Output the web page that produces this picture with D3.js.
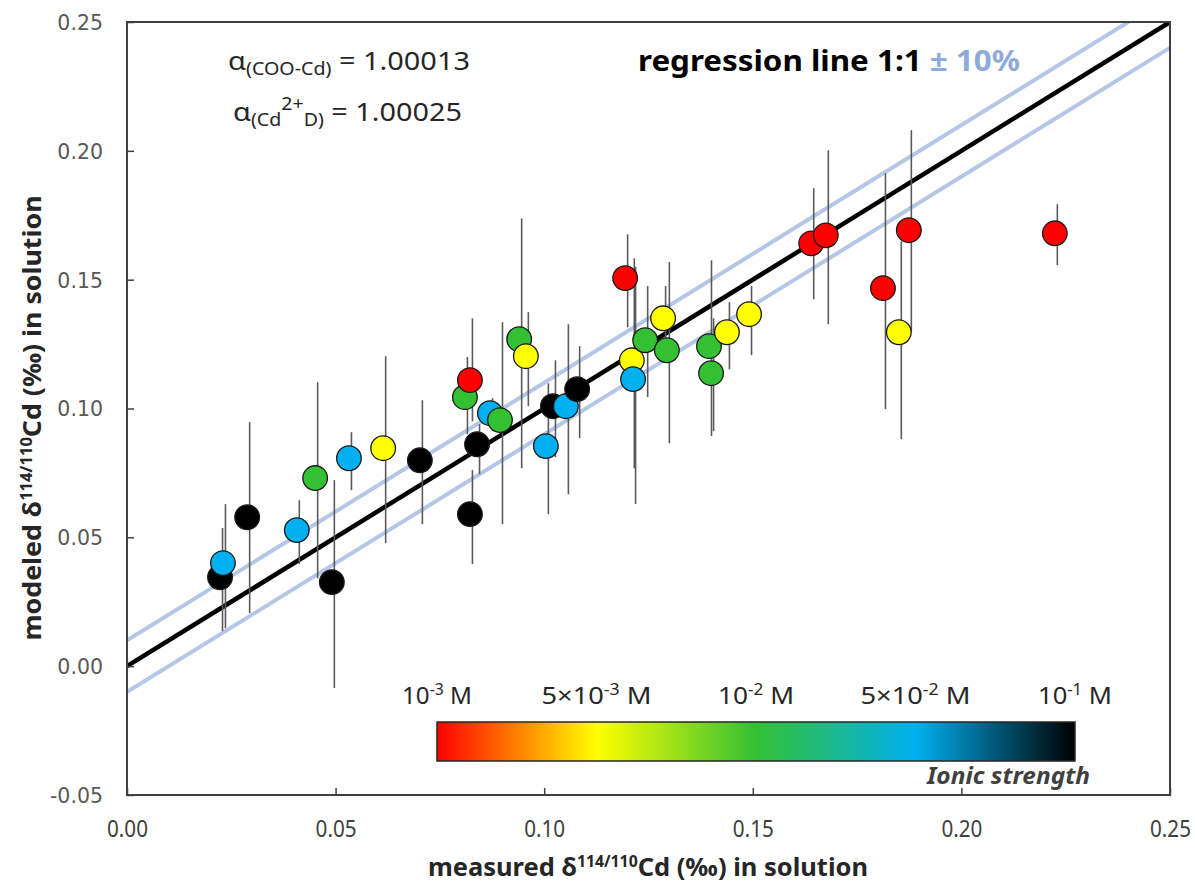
<!DOCTYPE html>
<html>
<head>
<meta charset="utf-8">
<script src="https://cdn.jsdelivr.net/npm/d3@7"></script>
<style>
  html, body { margin: 0; padding: 0; background: #fff; }
  svg { display: block; }
  .narrow { font-family: "Noto Sans", "Open Sans", sans-serif; }
</style>
</head>
<body>
<svg id="chart" width="1195" height="886"></svg>
<script>
// Measured vs. modelled δ114/110Cd in solution, coloured by ionic strength
const ionicLevels = ["1e-3", "5e-3", "1e-2", "5e-2", "1e-1"];
const ionicLabels = [
  { base: "10", exp: "-3", pre: "" },
  { base: "10", exp: "-3", pre: "5×" },
  { base: "10", exp: "-2", pre: "" },
  { base: "10", exp: "-2", pre: "5×" },
  { base: "10", exp: "-1", pre: "" }
];
const ionicColors = ["#ff0000", "#ffff00", "#33c033", "#00b0f0", "#000000"];

// one entry per sample
const measuredCd = [
  0.0223, 0.0288, 0.0491, 0.0702, 0.0822, 0.0839, 0.1021, 0.1079,
  0.0230, 0.0407, 0.0532, 0.0870, 0.1004, 0.1052, 0.1213,
  0.0451, 0.0810, 0.0894, 0.0940, 0.1242, 0.1294, 0.1395, 0.1400,
  0.0614, 0.0956, 0.1210, 0.1285, 0.1438, 0.1491, 0.1850,
  0.0822, 0.1194, 0.1640, 0.1675, 0.1812, 0.1874, 0.2224
];
const modeledCd = [
  0.0345, 0.0578, 0.0326, 0.0799, 0.0590, 0.0861, 0.1009, 0.1075,
  0.0400, 0.0528, 0.0807, 0.0982, 0.0854, 0.1009, 0.1114,
  0.0730, 0.1044, 0.0955, 0.1269, 0.1265, 0.1226, 0.1242, 0.1137,
  0.0846, 0.1203, 0.1187, 0.1350, 0.1296, 0.1366, 0.1296,
  0.1110, 0.1506, 0.1641, 0.1672, 0.1467, 0.1692, 0.1680
];
const modeledHigh = [
  0.0536, 0.0947, 0.0722, 0.1032, 0.0761, 0.0939, 0.1187, 0.1242,
  0.0629, 0.0644, 0.0908, 0.1040, 0.1098, 0.1327, 0.1550,
  0.1102, 0.1200, 0.1335, 0.1738, 0.1475, 0.1568, 0.1575, 0.1350,
  0.1203, 0.1374, 0.1583, 0.1475, 0.1413, 0.1475, 0.1649,
  0.1350, 0.1676, 0.1855, 0.2002, 0.1913, 0.2080, 0.1793
];
const modeledLow = [
  0.0136, 0.0206, -0.0085, 0.0551, 0.0396, 0.0745, 0.0811, 0.0885,
  0.0147, 0.0396, 0.0683, 0.0930, 0.0590, 0.0667, 0.0629,
  0.0341, 0.0900, 0.0551, 0.0768, 0.1044, 0.0865, 0.0893, 0.0912,
  0.0477, 0.1009, 0.0768, 0.1220, 0.1152, 0.1207, 0.0881,
  0.0950, 0.1315, 0.1424, 0.1327, 0.0997, 0.1300, 0.1556
];
const ionicOfSample = [
  "1e-1", "1e-1", "1e-1", "1e-1", "1e-1", "1e-1", "1e-1", "1e-1",
  "5e-2", "5e-2", "5e-2", "5e-2", "5e-2", "5e-2", "5e-2",
  "1e-2", "1e-2", "1e-2", "1e-2", "1e-2", "1e-2", "1e-2", "1e-2",
  "5e-3", "5e-3", "5e-3", "5e-3", "5e-3", "5e-3", "5e-3",
  "1e-3", "1e-3", "1e-3", "1e-3", "1e-3", "1e-3", "1e-3"
];
// drawing order (later samples sit on top)
const drawOrder = [
  0, 8, 1, 9, 15, 2, 10, 23, 3, 16, 30, 5, 4, 11, 17, 18, 24, 12, 6, 13, 7,
  25, 14, 19, 26, 20, 21, 22, 27, 28, 31, 32, 33, 34, 29, 35, 36
];

const xTicks = [0, 0.05, 0.10, 0.15, 0.20, 0.25];
const yTicks = [-0.05, 0, 0.05, 0.10, 0.15, 0.20, 0.25];
const oneToOne = [0, 0.25];
const bandOffset = 0.01;

const samples = measuredCd.map((m, i) => ({
  x: m, y: modeledCd[i], lo: modeledLow[i], hi: modeledHigh[i], ionic: ionicOfSample[i]
}));

const svg = d3.select("#chart");
const plot = { left: 127, top: 22, right: 1170, bottom: 795 };

const x = d3.scaleLinear().domain([0, 0.25]).range([plot.left, plot.right]);
const y = d3.scaleLinear().domain([-0.05, 0.25]).range([plot.bottom, plot.top]);
const colorOf = d3.scaleOrdinal().domain(ionicLevels).range(ionicColors);
const tickFmt = v => d3.format(".2f")(v).replace("−", "-");

const clipId = "plotClip";
svg.append("defs").append("clipPath").attr("id", clipId)
  .append("rect")
  .attr("x", plot.left).attr("y", plot.top)
  .attr("width", plot.right - plot.left).attr("height", plot.bottom - plot.top);

const inner = svg.append("g").attr("clip-path", `url(#${clipId})`);

// ±10 % band and 1:1 line
const diag = off => d3.line().x(d => x(d)).y(d => y(d + off));
const ext = [-0.05, 0.3];
[bandOffset, -bandOffset].forEach(off => {
  inner.append("path").datum(ext).attr("d", diag(off))
    .attr("fill", "none").attr("stroke", "#b4c7e7").attr("stroke-width", 4);
});
inner.append("path").datum(oneToOne).attr("d", diag(0))
  .attr("fill", "none").attr("stroke", "#000").attr("stroke-width", 4.5);

// error bars
const order = drawOrder.map(i => samples[i]);
inner.append("g").selectAll("line").data(order).join("line")
  .attr("x1", d => x(d.x) + 2.5).attr("x2", d => x(d.x) + 2.5)
  .attr("y1", d => y(d.hi)).attr("y2", d => y(d.lo))
  .attr("stroke", "#5a5a5a").attr("stroke-width", 1.6);

// sample markers
inner.append("g").selectAll("circle").data(order).join("circle")
  .attr("cx", d => x(d.x)).attr("cy", d => y(d.y)).attr("r", 12.3)
  .attr("fill", d => colorOf(d.ionic))
  .attr("stroke", "#1a1a1a").attr("stroke-width", 1.3);

// frame
svg.append("rect")
  .attr("x", plot.left).attr("y", plot.top)
  .attr("width", plot.right - plot.left).attr("height", plot.bottom - plot.top)
  .attr("fill", "none").attr("stroke", "#404040").attr("stroke-width", 2);

// axes with inward ticks
const xAxis = svg.append("g").attr("transform", `translate(0,${plot.bottom})`)
  .call(d3.axisTop(x).tickValues(xTicks).tickSize(7).tickFormat(tickFmt));
xAxis.select(".domain").remove();
xAxis.selectAll(".tick line").attr("stroke", "#404040").attr("stroke-width", 1.5);
xAxis.selectAll(".tick text")
  .attr("class", "narrow").attr("y", 42).attr("dy", 0)
  .attr("font-size", 23).attr("fill", "#404040")
  .attr("textLength", 41).attr("lengthAdjust", "spacingAndGlyphs");

const yAxis = svg.append("g").attr("transform", `translate(${plot.left},0)`)
  .call(d3.axisRight(y).tickValues(yTicks).tickSize(7).tickFormat(tickFmt));
yAxis.select(".domain").remove();
yAxis.selectAll(".tick line").attr("stroke", "#404040").attr("stroke-width", 1.5);
yAxis.selectAll(".tick text")
  .attr("x", -24).attr("text-anchor", "end").attr("dy", "0.36em")
  .attr("font-family", "DejaVu Sans, sans-serif")
  .attr("font-size", 20.5).attr("fill", "#595959");

// axis titles
function deltaTitle(sel, pre) {
  sel.append("tspan").text(pre + "δ");
  sel.append("tspan").attr("font-size", "0.62em").attr("dy", "-0.55em").text("114/110");
  sel.append("tspan").attr("dy", "0.34em").text("Cd (‰) in solution");
}
const xt = svg.append("text").attr("class", "narrow")
  .attr("x", 648).attr("y", 876).attr("text-anchor", "middle")
  .attr("font-size", 25).attr("font-weight", "bold").attr("fill", "#262626")
  .attr("textLength", 440).attr("lengthAdjust", "spacingAndGlyphs");
deltaTitle(xt, "measured ");

const yt = svg.append("text").attr("class", "narrow")
  .attr("transform", "translate(41,418) rotate(-90)").attr("text-anchor", "middle")
  .attr("font-size", 25).attr("font-weight", "bold").attr("fill", "#262626")
  .attr("textLength", 445).attr("lengthAdjust", "spacingAndGlyphs");
deltaTitle(yt, "modeled ");

// fractionation factors
const a1 = svg.append("text").attr("class", "narrow")
  .attr("x", 228).attr("y", 70).attr("font-size", 26).attr("fill", "#262626")
  .attr("textLength", 242).attr("lengthAdjust", "spacingAndGlyphs");
a1.append("tspan").text("α");
a1.append("tspan").attr("font-size", "0.68em").attr("dy", "0.3em").text("(COO-Cd)");
a1.append("tspan").attr("dy", "-0.2em").text(" = 1.00013");

const a2 = svg.append("text").attr("class", "narrow")
  .attr("x", 233).attr("y", 121).attr("font-size", 26).attr("fill", "#262626")
  .attr("textLength", 229).attr("lengthAdjust", "spacingAndGlyphs");
a2.append("tspan").text("α");
a2.append("tspan").attr("font-size", "0.68em").attr("dy", "0.3em").text("(Cd");
a2.append("tspan").attr("font-size", "0.68em").attr("dy", "-0.95em").text("2+");
a2.append("tspan").attr("font-size", "0.68em").attr("dy", "0.95em").text("D)");
a2.append("tspan").attr("dy", "-0.2em").text(" = 1.00025");

// legend for the lines
const reg = svg.append("text").attr("class", "narrow")
  .attr("x", 638).attr("y", 71).attr("font-size", 29).attr("font-weight", "bold")
  .attr("textLength", 382).attr("lengthAdjust", "spacingAndGlyphs");
reg.append("tspan").attr("fill", "#000").text("regression line 1:1 ");
reg.append("tspan").attr("fill", "#8eaadb").text("± 10%");

// ionic strength colour bar
const bar = { x0: 437, x1: 1075, y0: 722, y1: 761 };
const barScale = d3.scalePoint().domain(ionicLevels).range([bar.x0, bar.x1]);
const grad = svg.select("defs").append("linearGradient").attr("id", "ionicGrad")
  .attr("x1", "0%").attr("x2", "100%").attr("y1", "0%").attr("y2", "0%");
grad.selectAll("stop").data(ionicLevels).join("stop")
  .attr("offset", (d, i) => `${(100 * i) / (ionicLevels.length - 1)}%`)
  .attr("stop-color", d => colorOf(d));
svg.append("rect")
  .attr("x", bar.x0).attr("y", bar.y0)
  .attr("width", bar.x1 - bar.x0).attr("height", bar.y1 - bar.y0)
  .attr("fill", "url(#ionicGrad)").attr("stroke", "#262626").attr("stroke-width", 1.5);

const labWidths = [70, 110, 76, 110, 74];
const lab = svg.append("g").selectAll("text").data(ionicLevels).join("text")
  .attr("class", "narrow")
  .attr("x", d => barScale(d)).attr("y", 704).attr("text-anchor", "middle")
  .attr("font-size", 24).attr("fill", "#262626")
  .attr("textLength", (d, i) => labWidths[i]).attr("lengthAdjust", "spacingAndGlyphs");
lab.each(function (d, i) {
  const t = d3.select(this), L = ionicLabels[i];
  t.append("tspan").text(L.pre + L.base);
  t.append("tspan").attr("font-size", "0.65em").attr("dy", "-0.6em").text(L.exp);
  t.append("tspan").attr("dy", "0.39em").text(" M");
});

svg.append("text").attr("class", "narrow")
  .attr("x", 1090).attr("y", 784).attr("text-anchor", "end")
  .attr("font-size", 23).attr("font-style", "italic").attr("font-weight", "bold")
  .attr("fill", "#404040").attr("textLength", 163).attr("lengthAdjust", "spacingAndGlyphs")
  .text("Ionic strength");
</script>
</body>
</html>
